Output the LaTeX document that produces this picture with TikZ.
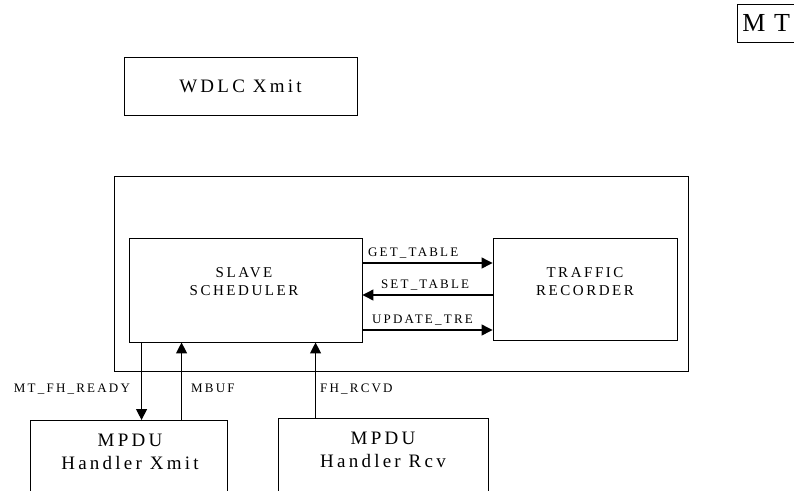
\documentclass[tikz,border=0pt]{standalone}
\usepackage{fontspec}
\setmainfont{Liberation Serif}
\newfontfamily\spacedfont{Liberation Serif}[LetterSpace=17]
\usepackage{xcolor}
\usepackage{tikz}
\usetikzlibrary{arrows.meta}

\begin{document}
\begin{tikzpicture}[x=1pt, y=-1pt,
    box/.style={draw, line width=0.9pt, rectangle, inner sep=0pt},
    boxtext/.style={align=center, font=\spacedfont\fontsize{15}{18}\selectfont},
    bigtext/.style={align=center, font=\spacedfont\fontsize{19}{23}\selectfont},
    sig/.style={font=\spacedfont\fontsize{13}{15}\selectfont, inner sep=1pt},
    arr/.style={line width=1.2pt, -{Triangle[length=11pt, width=11pt]}}]
    \clip (0,0) rectangle (794,490);
    \useasboundingbox (0,0) rectangle (794,490);

    % MT tag (top right, runs off the page)
    \node[box, anchor=north west, minimum height=38, text width=60, inner xsep=5,
          align=left, font=\fontsize{26}{28}\selectfont] (mt) at (737,4) {M T};

    % WDLC Xmit
    \node[box, minimum width=233, minimum height=58, bigtext] (wdlc) at (240.5,86) {WDLC Xmit};

    % MT frame round scheduler and recorder
    \node[box, minimum width=574, minimum height=195] (frame) at (401,273.5) {};

    % Slave scheduler
    \node[box, minimum width=233, minimum height=104] (sched) at (245.5,290) {};
    \node[boxtext] (schedtxt) at (244,282) {SLAVE\\SCHEDULER};

    % Traffic recorder
    \node[box, minimum width=184, minimum height=102] (rec) at (585,289) {};
    \node[boxtext] (rectxt) at (585,282) {TRAFFIC\\RECORDER};

    % MPDU handlers (cut off at the bottom)
    \node[box, anchor=north, minimum width=197, minimum height=100] (xmit) at (128.5,420) {};
    \node[bigtext] (xmittxt) at (130,452) {MPDU\\Handler Xmit};
    \node[box, anchor=north, minimum width=210, minimum height=100] (rcv) at (383,418) {};
    \node[bigtext] (rcvtxt) at (383,450) {MPDU\\Handler Rcv};

    % scheduler <-> recorder
    \draw[arr] ([yshift=27]sched.east) -- ([yshift=27]sched.east -| rec.west)
        node[pos=0, anchor=south west, sig, xshift=4, yshift=3] {GET\_TABLE};
    \draw[arr] ([yshift=-5]sched.east -| rec.west) -- ([yshift=-5]sched.east)
        node[pos=1, anchor=south west, sig, xshift=17, yshift=3] {SET\_TABLE};
    \draw[arr] ([yshift=-40]sched.east) -- ([yshift=-40]sched.east -| rec.west)
        node[pos=0, anchor=south west, sig, xshift=8, yshift=3] {UPDATE\_TRE};

    % scheduler <-> handlers
    \draw[arr] ([xshift=13]sched.south west) -- ([xshift=13]sched.south west |- xmit.north)
        node[pos=0.6, left, sig, xshift=-10] {MT\_FH\_READY};
    \draw[arr] ([xshift=53]sched.south west |- xmit.north) -- ([xshift=53]sched.south west)
        node[pos=0.41, right, sig, xshift=8] {MBUF};
    \draw[arr] ([xshift=187]sched.south west |- rcv.north) -- ([xshift=187]sched.south west)
        node[pos=0.39, right, sig, xshift=3] {FH\_RCVD};
\end{tikzpicture}
\end{document}
